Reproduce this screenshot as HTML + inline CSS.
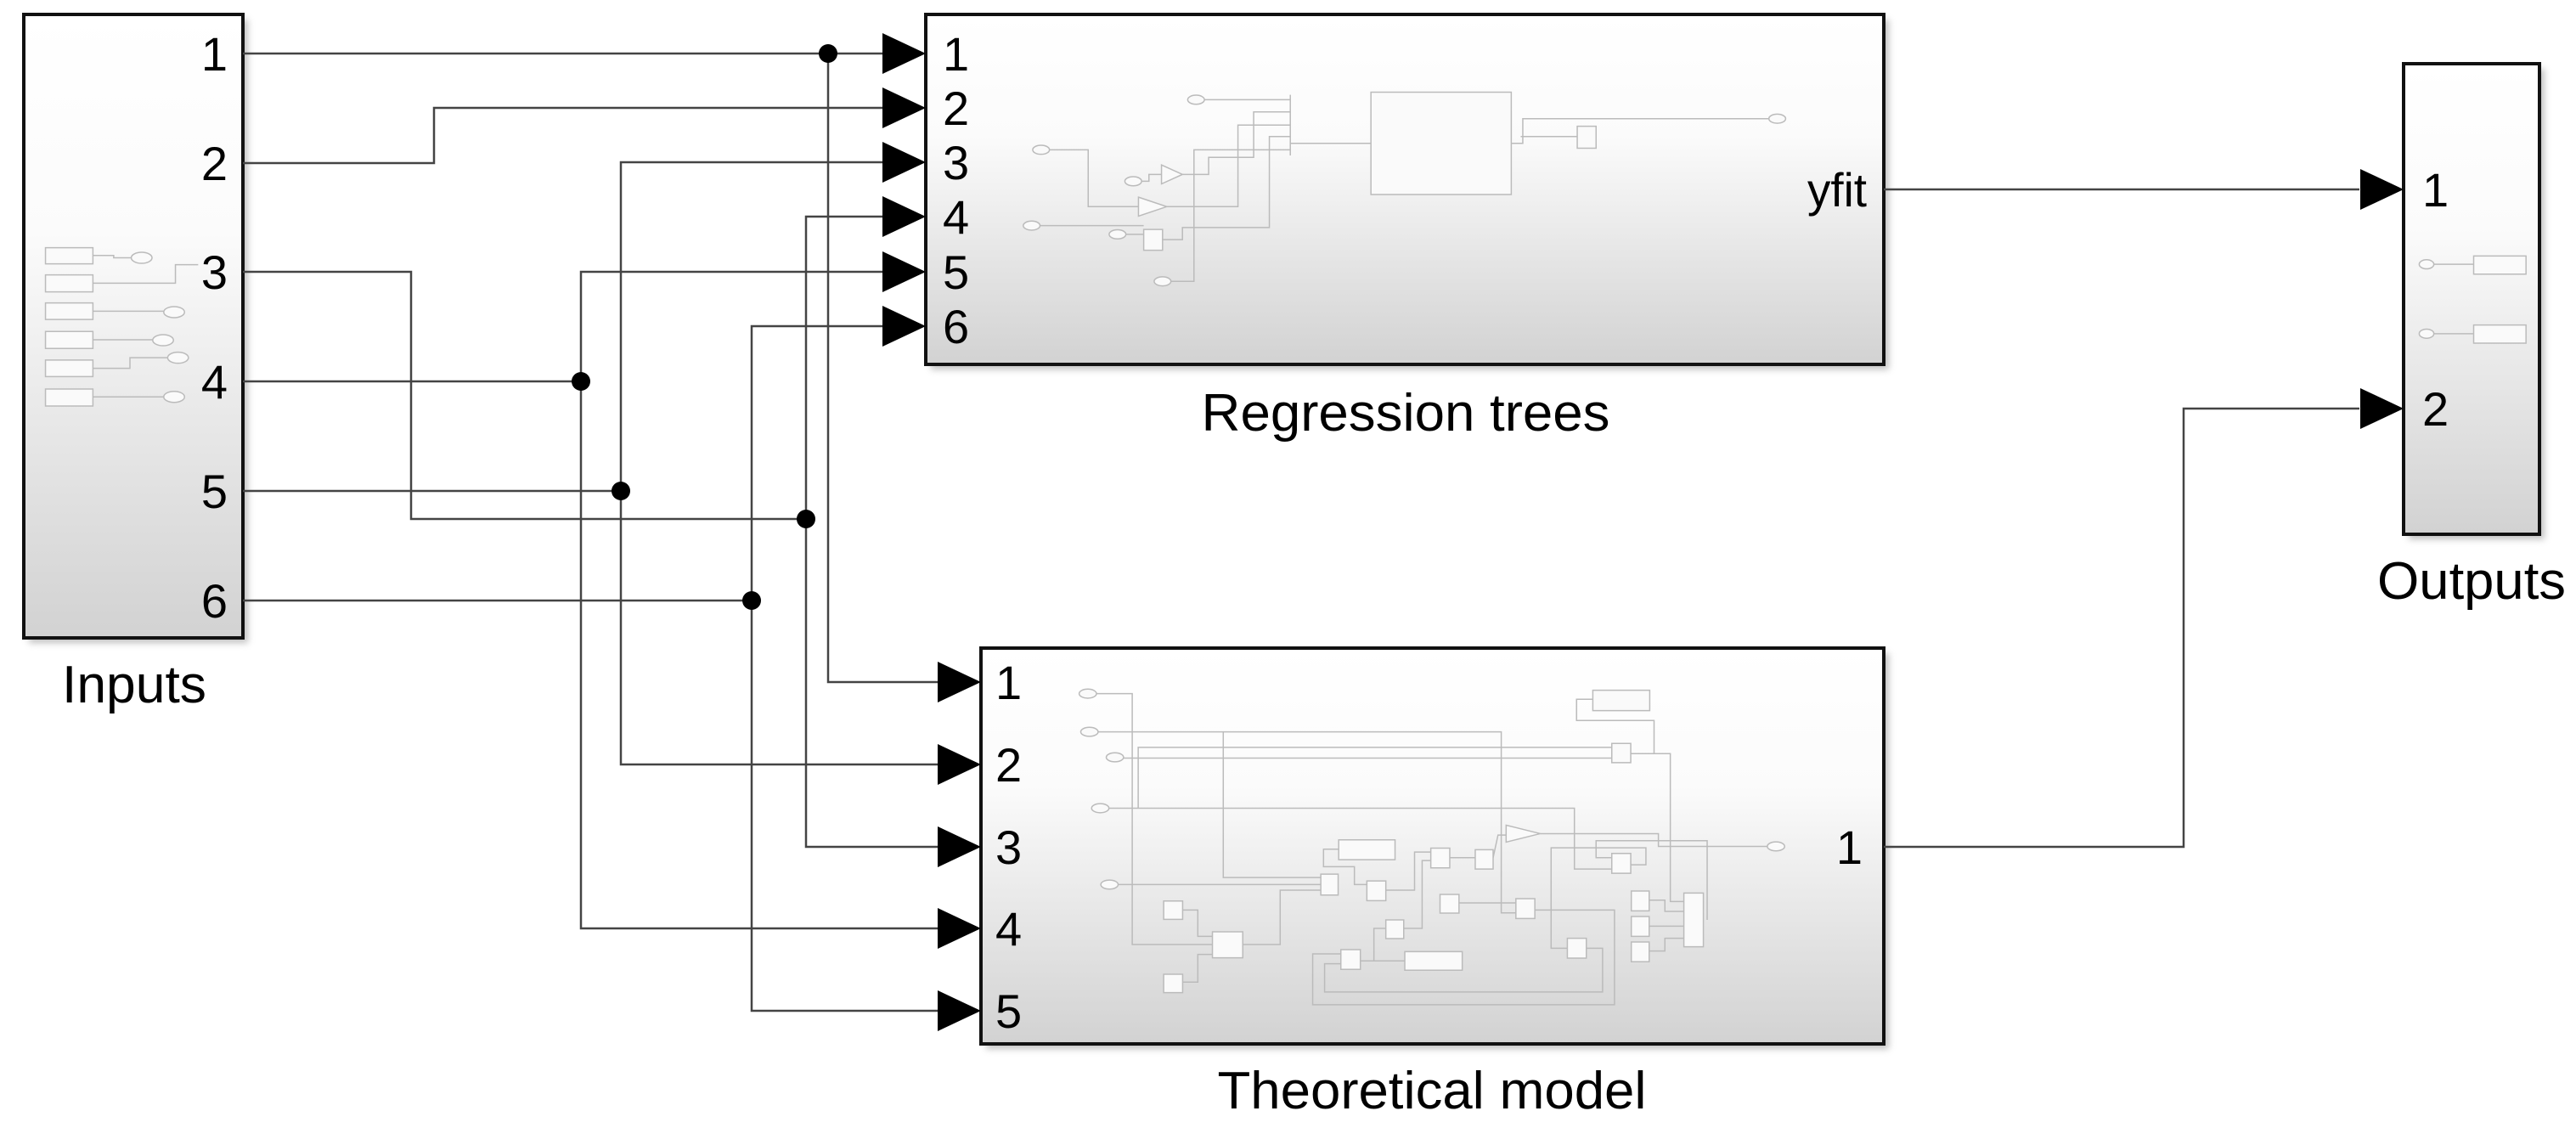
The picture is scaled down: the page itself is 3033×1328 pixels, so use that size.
<!DOCTYPE html>
<html><head><meta charset="utf-8"><style>html,body{margin:0;padding:0;background:#fff}svg{display:block}</style></head>
<body>
<svg width="3033" height="1328" viewBox="0 0 3033 1328" xmlns="http://www.w3.org/2000/svg" font-family="Liberation Sans, Arial, sans-serif">
<defs>
<linearGradient id="g" x1="0" y1="0" x2="0" y2="1">
<stop offset="0" stop-color="#ffffff"/><stop offset="0.35" stop-color="#fbfbfb"/><stop offset="1" stop-color="#d2d2d2"/>
</linearGradient>
<filter id="sh" x="-5%" y="-5%" width="115%" height="115%"><feGaussianBlur stdDeviation="4"/></filter>
</defs>
<rect width="3033" height="1328" fill="#fff"/>

<g fill="#999" filter="url(#sh)" opacity="0.6">
<rect x="34" y="23" width="258" height="734"/>
<rect x="1096" y="23" width="1128" height="412"/>
<rect x="1161" y="769" width="1063" height="466"/>
<rect x="2836" y="81" width="160" height="554"/>
</g>
<g fill="url(#g)" stroke="#111" stroke-width="4">
<rect x="28" y="17" width="258" height="734"/>
<rect x="1090" y="17" width="1128" height="412"/>
<rect x="1155" y="763" width="1063" height="466"/>
<rect x="2830" y="75" width="160" height="554"/>
</g>

<g transform="scale(0.765,0.542)" fill="#fafafa" stroke="#bbb" stroke-width="1.5">
<g fill="none">
<polyline vector-effect="non-scaling-stroke" points="143,555 175,555 175,560 205,560"/>
<polyline vector-effect="non-scaling-stroke" points="143,615 270,615 270,575 305,575"/>
<polyline vector-effect="non-scaling-stroke" points="143,676 255,676"/>
<polyline vector-effect="non-scaling-stroke" points="143,738 238,738"/>
<polyline vector-effect="non-scaling-stroke" points="143,800 200,800 200,777 260,777"/>
<polyline vector-effect="non-scaling-stroke" points="143,862 255,862"/>
</g>
<rect vector-effect="non-scaling-stroke" x="70" y="538" width="73" height="35"/>
<rect vector-effect="non-scaling-stroke" x="70" y="597" width="73" height="37"/>
<rect vector-effect="non-scaling-stroke" x="70" y="658" width="73" height="36"/>
<rect vector-effect="non-scaling-stroke" x="70" y="720" width="73" height="37"/>
<rect vector-effect="non-scaling-stroke" x="70" y="782" width="73" height="36"/>
<rect vector-effect="non-scaling-stroke" x="70" y="845" width="73" height="37"/>
<ellipse vector-effect="non-scaling-stroke" cx="218" cy="560" rx="16" ry="12"/>
<ellipse vector-effect="non-scaling-stroke" cx="268" cy="678" rx="16" ry="12"/>
<ellipse vector-effect="non-scaling-stroke" cx="251" cy="739" rx="16" ry="12"/>
<ellipse vector-effect="non-scaling-stroke" cx="274" cy="777" rx="16" ry="12"/>
<ellipse vector-effect="non-scaling-stroke" cx="268" cy="862" rx="16" ry="12"/>
</g>

<g transform="translate(1100,0) scale(1.233,0.4464)" fill="#fafafa" stroke="#bbb" stroke-width="1.5">
<g fill="none">
<polyline vector-effect="non-scaling-stroke" points="258,263 340,263"/>
<polyline vector-effect="non-scaling-stroke" points="340,250 340,410"/>
<polyline vector-effect="non-scaling-stroke" points="340,295 305,295 305,415 262,415 262,460 237,460"/>
<polyline vector-effect="non-scaling-stroke" points="340,330 290,330 290,545 222,545"/>
<polyline vector-effect="non-scaling-stroke" points="340,360 320,360 320,600 237,600 237,632 218,632"/>
<polyline vector-effect="non-scaling-stroke" points="340,395 248,395 248,742 226,742"/>
<polyline vector-effect="non-scaling-stroke" points="110,395 147,395 147,545 195,545"/>
<polyline vector-effect="non-scaling-stroke" points="100,595 200,595"/>
<polyline vector-effect="non-scaling-stroke" points="183,618 200,618"/>
<polyline vector-effect="non-scaling-stroke" points="198,478 205,478 205,460 217,460"/>
<polyline vector-effect="non-scaling-stroke" points="340,378 417,378"/>
<polyline vector-effect="non-scaling-stroke" points="551,378 562,378 562,313 797,313"/>
<polyline vector-effect="non-scaling-stroke" points="560,360 614,360"/>
<polyline vector-effect="non-scaling-stroke" points="1432,697 1470,697"/>
<polyline vector-effect="non-scaling-stroke" points="1432,880 1470,880"/>
</g>
<rect vector-effect="non-scaling-stroke" x="417" y="243" width="134" height="270"/>
<rect vector-effect="non-scaling-stroke" x="614" y="333" width="18" height="58"/>
<rect vector-effect="non-scaling-stroke" x="200" y="605" width="18" height="55"/>
<polygon vector-effect="non-scaling-stroke" points="217,435 237,460 217,485"/>
<polygon vector-effect="non-scaling-stroke" points="195,520 222,545 195,570"/>
<ellipse vector-effect="non-scaling-stroke" cx="250" cy="263" rx="8" ry="12"/>
<ellipse vector-effect="non-scaling-stroke" cx="102" cy="395" rx="8" ry="12"/>
<ellipse vector-effect="non-scaling-stroke" cx="190" cy="478" rx="8" ry="12"/>
<ellipse vector-effect="non-scaling-stroke" cx="93" cy="595" rx="8" ry="12"/>
<ellipse vector-effect="non-scaling-stroke" cx="175" cy="618" rx="8" ry="12"/>
<ellipse vector-effect="non-scaling-stroke" cx="218" cy="742" rx="8" ry="12"/>
<ellipse vector-effect="non-scaling-stroke" cx="805" cy="313" rx="8" ry="12"/>
<ellipse vector-effect="non-scaling-stroke" cx="1425" cy="697" rx="7" ry="12"/>
<ellipse vector-effect="non-scaling-stroke" cx="1425" cy="880" rx="7" ry="12"/>
<rect vector-effect="non-scaling-stroke" x="1470" y="675" width="50" height="48"/>
<rect vector-effect="non-scaling-stroke" x="1470" y="857" width="50" height="48"/>
</g>

<g transform="translate(1150,770) scale(0.638,0.333)" fill="#fafafa" stroke="#bbb" stroke-width="1.5">
<g fill="none">
<polyline vector-effect="non-scaling-stroke" points="221,140 287,140 287,1027 435,1027"/>
<polyline vector-effect="non-scaling-stroke" points="224,275 968,275 968,915 995,915"/>
<polyline vector-effect="non-scaling-stroke" points="455,275 455,790 635,790"/>
<polyline vector-effect="non-scaling-stroke" points="1172,330 298,330 298,545"/>
<polyline vector-effect="non-scaling-stroke" points="271,368 1172,368"/>
<polyline vector-effect="non-scaling-stroke" points="244,545 1103,545 1103,760 1172,760"/>
<polyline vector-effect="non-scaling-stroke" points="261,815 635,815"/>
<polyline vector-effect="non-scaling-stroke" points="491,1027 560,1027 560,835 635,835"/>
<polyline vector-effect="non-scaling-stroke" points="1207,352 1280,352 1280,875 1305,875"/>
<polyline vector-effect="non-scaling-stroke" points="1250,352 1250,235 1107,235 1107,160 1137,160"/>
<polyline vector-effect="non-scaling-stroke" points="1040,635 1258,635 1258,680 1460,680"/>
<polyline vector-effect="non-scaling-stroke" points="1348,940 1348,660 1143,660 1143,720 1172,720"/>
<polyline vector-effect="non-scaling-stroke" points="1207,745 1235,745 1235,685 1060,685 1060,1040 1090,1040"/>
<polyline vector-effect="non-scaling-stroke" points="380,905 408,905 408,998 435,998"/>
<polyline vector-effect="non-scaling-stroke" points="380,1160 408,1160 408,1062 435,1062"/>
<polyline vector-effect="non-scaling-stroke" points="668,690 640,690 640,752 697,752 697,815 720,815"/>
<polyline vector-effect="non-scaling-stroke" points="755,835 808,835 808,700 838,700"/>
<polyline vector-effect="non-scaling-stroke" points="873,720 920,720"/>
<polyline vector-effect="non-scaling-stroke" points="953,720 962,640 977,640"/>
<polyline vector-effect="non-scaling-stroke" points="890,880 995,880"/>
<polyline vector-effect="non-scaling-stroke" points="1030,905 1177,905 1177,1240 620,1240 620,1060 672,1060"/>
<polyline vector-effect="non-scaling-stroke" points="1125,1040 1155,1040 1155,1195 642,1195 642,1095 672,1095"/>
<polyline vector-effect="non-scaling-stroke" points="708,1085 790,1085"/>
<polyline vector-effect="non-scaling-stroke" points="733,1085 733,970 755,970"/>
<polyline vector-effect="non-scaling-stroke" points="788,970 822,970 822,730 838,730"/>
<polyline vector-effect="non-scaling-stroke" points="1241,870 1270,870 1270,910 1305,910"/>
<polyline vector-effect="non-scaling-stroke" points="1241,962 1305,962"/>
<polyline vector-effect="non-scaling-stroke" points="1241,1050 1270,1050 1270,1005 1305,1005"/>
</g>
<rect vector-effect="non-scaling-stroke" x="1137" y="128" width="105" height="72"/>
<rect vector-effect="non-scaling-stroke" x="1172" y="316" width="35" height="68"/>
<rect vector-effect="non-scaling-stroke" x="668" y="657" width="104" height="70"/>
<rect vector-effect="non-scaling-stroke" x="635" y="778" width="32" height="74"/>
<rect vector-effect="non-scaling-stroke" x="720" y="802" width="35" height="70"/>
<rect vector-effect="non-scaling-stroke" x="838" y="686" width="35" height="70"/>
<rect vector-effect="non-scaling-stroke" x="920" y="692" width="33" height="68"/>
<rect vector-effect="non-scaling-stroke" x="855" y="850" width="35" height="66"/>
<rect vector-effect="non-scaling-stroke" x="995" y="865" width="35" height="70"/>
<rect vector-effect="non-scaling-stroke" x="1172" y="705" width="35" height="70"/>
<rect vector-effect="non-scaling-stroke" x="1208" y="838" width="33" height="70"/>
<rect vector-effect="non-scaling-stroke" x="1208" y="928" width="33" height="70"/>
<rect vector-effect="non-scaling-stroke" x="1208" y="1018" width="33" height="70"/>
<rect vector-effect="non-scaling-stroke" x="1305" y="845" width="36" height="190"/>
<rect vector-effect="non-scaling-stroke" x="345" y="873" width="35" height="65"/>
<rect vector-effect="non-scaling-stroke" x="435" y="982" width="56" height="92"/>
<rect vector-effect="non-scaling-stroke" x="345" y="1132" width="35" height="65"/>
<rect vector-effect="non-scaling-stroke" x="755" y="940" width="33" height="66"/>
<rect vector-effect="non-scaling-stroke" x="672" y="1045" width="36" height="70"/>
<rect vector-effect="non-scaling-stroke" x="790" y="1052" width="106" height="66"/>
<rect vector-effect="non-scaling-stroke" x="1090" y="1005" width="35" height="70"/>
<polygon vector-effect="non-scaling-stroke" points="977,605 1040,635 977,665"/>
<ellipse vector-effect="non-scaling-stroke" cx="205" cy="140" rx="16" ry="16"/>
<ellipse vector-effect="non-scaling-stroke" cx="208" cy="275" rx="16" ry="16"/>
<ellipse vector-effect="non-scaling-stroke" cx="255" cy="365" rx="16" ry="16"/>
<ellipse vector-effect="non-scaling-stroke" cx="228" cy="545" rx="16" ry="16"/>
<ellipse vector-effect="non-scaling-stroke" cx="245" cy="815" rx="16" ry="16"/>
<ellipse vector-effect="non-scaling-stroke" cx="1475" cy="680" rx="16" ry="16"/>
</g>

<g fill="none" stroke="#444" stroke-width="2.5">
<polyline points="286,63 1040,63"/>
<polyline points="975,63 975,803 1104,803"/>
<polyline points="286,192 511,192 511,127 1040,127"/>
<polyline points="286,320 484,320 484,611 949,611"/>
<polyline points="1040,255 949,255 949,997 1104,997"/>
<polyline points="286,449 684,449"/>
<polyline points="1040,320 684,320 684,1093 1104,1093"/>
<polyline points="286,578 731,578"/>
<polyline points="1040,191 731,191 731,900 1104,900"/>
<polyline points="286,707 885,707"/>
<polyline points="1040,384 885,384 885,1190 1104,1190"/>
<polyline points="2218,223 2778,223"/>
<polyline points="2218,997 2571,997 2571,481 2778,481"/>
</g>
<g fill="#000">
<ellipse cx="975" cy="63" rx="11" ry="11"/>
<ellipse cx="684" cy="449" rx="11" ry="11"/>
<ellipse cx="731" cy="578" rx="11" ry="11"/>
<ellipse cx="949" cy="611" rx="11" ry="11"/>
<ellipse cx="885" cy="707" rx="11" ry="11"/>
</g>
<g fill="#000">
<polygon points="1039,39 1090,63 1039,87"/>
<polygon points="1039,103 1090,127 1039,151"/>
<polygon points="1039,167 1090,191 1039,215"/>
<polygon points="1039,231 1090,255 1039,279"/>
<polygon points="1039,296 1090,320 1039,344"/>
<polygon points="1039,360 1090,384 1039,408"/>
<polygon points="1104,779 1155,803 1104,827"/>
<polygon points="1104,876 1155,900 1104,924"/>
<polygon points="1104,973 1155,997 1104,1021"/>
<polygon points="1104,1069 1155,1093 1104,1117"/>
<polygon points="1104,1166 1155,1190 1104,1214"/>
<polygon points="2779,199 2830,223 2779,247"/>
<polygon points="2779,457 2830,481 2779,505"/>
</g>

<g fill="#000" font-size="56">
<g text-anchor="end">
<text x="268" y="83">1</text>
<text x="268" y="212">2</text>
<text x="268" y="340">3</text>
<text x="268" y="469">4</text>
<text x="268" y="598">5</text>
<text x="268" y="727">6</text>
<text x="2198" y="243" textLength="70" lengthAdjust="spacingAndGlyphs">yfit</text>
<text x="2193" y="1017">1</text>
</g>
<text x="1110" y="83">1</text>
<text x="1110" y="147">2</text>
<text x="1110" y="211">3</text>
<text x="1110" y="275">4</text>
<text x="1110" y="340">5</text>
<text x="1110" y="404">6</text>
<text x="1172" y="823">1</text>
<text x="1172" y="920">2</text>
<text x="1172" y="1017">3</text>
<text x="1172" y="1113">4</text>
<text x="1172" y="1210">5</text>
<text x="2852" y="243">1</text>
<text x="2852" y="501">2</text>
<g font-size="62">
<text x="158" y="827" text-anchor="middle" textLength="170" lengthAdjust="spacingAndGlyphs">Inputs</text>
<text x="1655" y="507" text-anchor="middle" textLength="481" lengthAdjust="spacingAndGlyphs">Regression trees</text>
<text x="1686" y="1305" text-anchor="middle" textLength="505" lengthAdjust="spacingAndGlyphs">Theoretical model</text>
<text x="2910" y="705" text-anchor="middle" textLength="222" lengthAdjust="spacingAndGlyphs">Outputs</text>
</g>
</g>
</svg>
</body></html>
